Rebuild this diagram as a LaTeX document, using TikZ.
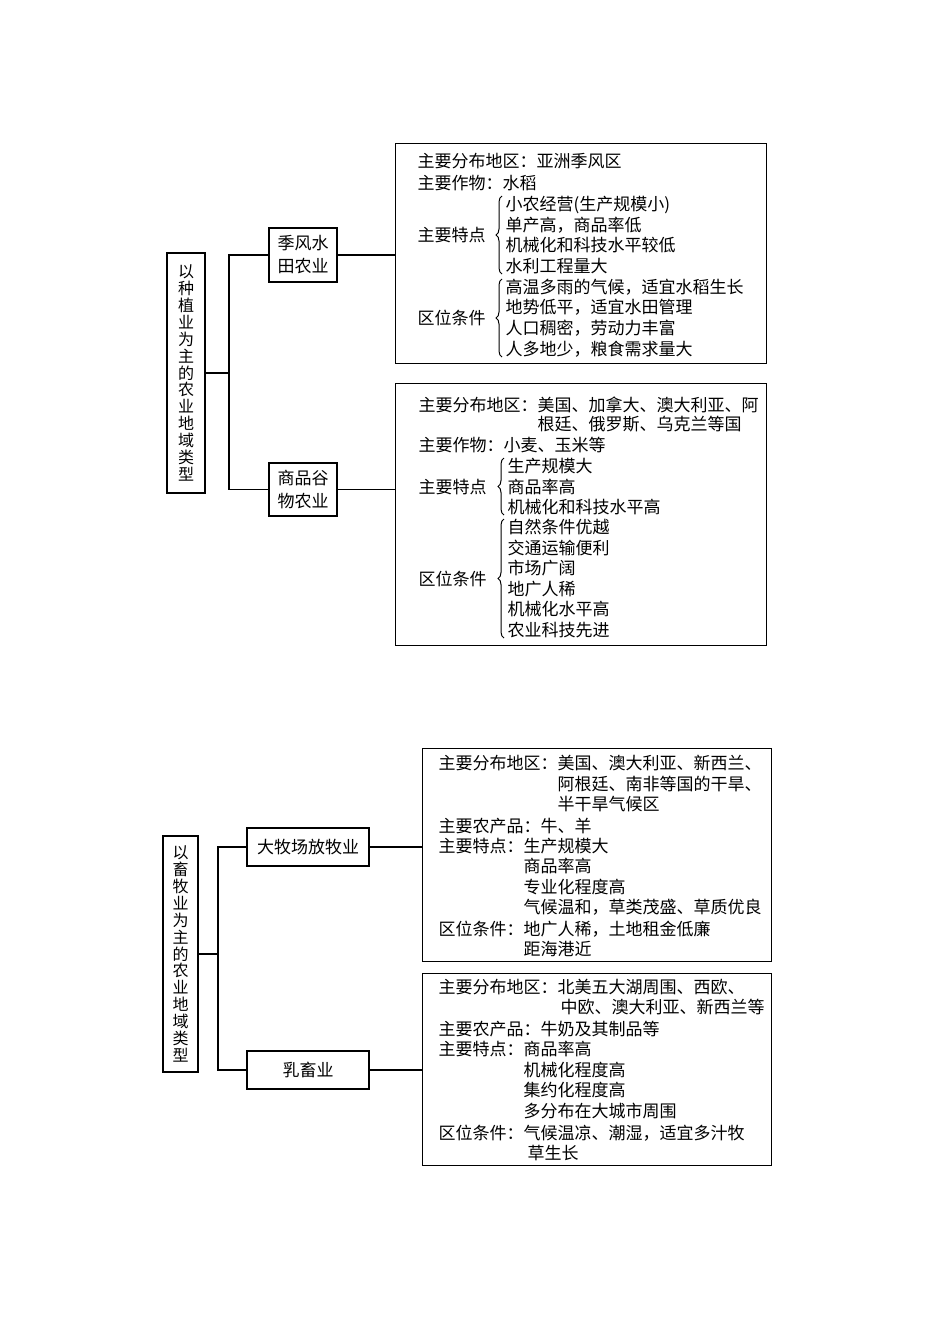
\documentclass[tikz,border=0pt]{standalone}
\usepackage{fontspec}
\newfontfamily\cjk{Noto Sans CJK SC}
\usetikzlibrary{decorations.pathreplacing}

\begin{document}
\begin{tikzpicture}[x=1pt,y=-1pt,line width=1.3pt]
  \tikzset{ box/.style={draw,line width=1.4pt,inner sep=0pt,align=center,font=\cjk\fontsize{17}{23}\selectfont},
    side/.style={box,font=\cjk\fontsize{16}{16.9}\selectfont},
    bigbox/.style={draw,line width=1.4pt,anchor=north west,inner sep=0pt},
    txt/.style={anchor=base west,inner sep=0pt,font=\cjk\fontsize{17}{20}\selectfont},
    brc/.style={decorate,decoration={brace,amplitude=6pt},line width=1pt},
  }
  \useasboundingbox (0,0) rectangle (950,1344);

  % upper chart
  \node[side,minimum width=38pt,minimum height=240pt] (L1) at (186,373) {以\\种\\植\\业\\为\\主\\的\\农\\业\\地\\域\\类\\型};
  \node[box,minimum width=68pt,minimum height=54pt] (B1) at (303,255) {季风水\\田农业};
  \node[box,minimum width=68pt,minimum height=53pt] (B2) at (303,489.5) {商品谷\\物农业};
  \node[bigbox,minimum width=371pt,minimum height=220pt] (R1) at (395,143) {};
  \node[bigbox,minimum width=371pt,minimum height=262pt] (R2) at (395,383) {};
  \coordinate (j1) at (229,373);

  \draw (L1) -- (j1);
  \draw (B1.west) -| (j1) |- (B2.west);
  \draw (B1.east) -- (R1.west |- B1.east);
  \draw (B2.east) -- (R2.west |- B2.east);

  \node[txt] (a1) at (417,167.5) {主要分布地区：亚洲季风区};
  \node[txt] (a2) at (417,189.5) {主要作物：水稻};
  \node[txt] (a3) at (417,241.5) {主要特点};
  \node[txt] (a4) at (505,210.5) {小农经营(生产规模小)};
  \node[txt] (a5) at (505,231.5) {单产高，商品率低};
  \node[txt] (a6) at (505,251.5) {机械化和科技水平较低};
  \node[txt] (a7) at (505,272.5) {水利工程量大};
  \node[txt] (a8) at (417,324.5) {区位条件};
  \node[txt] (a9) at (505,293.5) {高温多雨的气候，适宜水稻生长};
  \node[txt] (a10) at (505,313.5) {地势低平，适宜水田管理};
  \node[txt] (a11) at (505,334.5) {人口稠密，劳动力丰富};
  \node[txt] (a12) at (505,355.5) {人多地少，粮食需求量大};
  \draw[brc] (502,274) -- (502,196);
  \draw[brc] (502,357) -- (502,279);

  \node[txt] (c1) at (418,411.5) {主要分布地区：美国、加拿大、澳大利亚、阿};
  \node[txt] (c2) at (537,430.5) {根廷、俄罗斯、乌克兰等国};
  \node[txt] (c3) at (418,451.5) {主要作物：小麦、玉米等};
  \node[txt] (c4) at (418,493.5) {主要特点};
  \node[txt] (c5) at (507,472.5) {生产规模大};
  \node[txt] (c6) at (507,493.5) {商品率高};
  \node[txt] (c7) at (507,513.5) {机械化和科技水平高};
  \node[txt] (c8) at (418,585.5) {区位条件};
  \node[txt] (c9) at (507,533.5) {自然条件优越};
  \node[txt] (c10) at (507,554.5) {交通运输便利};
  \node[txt] (c11) at (507,574.5) {市场广阔};
  \node[txt] (c12) at (507,595.5) {地广人稀};
  \node[txt] (c13) at (507,615.5) {机械化水平高};
  \node[txt] (c14) at (507,636.5) {农业科技先进};
  \draw[brc] (504,515) -- (504,458);
  \draw[brc] (504,638) -- (504,519);

  % lower chart
  \node[side,minimum width=35pt,minimum height=236pt] (L2) at (180.5,954) {以\\畜\\牧\\业\\为\\主\\的\\农\\业\\地\\域\\类\\型};
  \node[box,minimum width=122pt,minimum height=38pt] (B3) at (308,847) {大牧场放牧业};
  \node[box,minimum width=122pt,minimum height=38pt] (B4) at (308,1070) {乳畜业};
  \node[bigbox,minimum width=349pt,minimum height=213pt] (R3) at (422,748) {};
  \node[bigbox,minimum width=349pt,minimum height=192pt] (R4) at (422,973) {};
  \coordinate (j2) at (218,954);

  \draw (L2) -- (j2);
  \draw (B3.west) -| (j2) |- (B4.west);
  \draw (B3.east) -- (R3.west |- B3.east);
  \draw (B4.east) -- (R4.west |- B4.east);

  \node[txt] (d1) at (438,769.5) {主要分布地区：美国、澳大利亚、新西兰、};
  \node[txt] (d2) at (557,790.5) {阿根廷、南非等国的干旱、};
  \node[txt] (d3) at (557,810.5) {半干旱气候区};
  \node[txt] (d4) at (438,832.5) {主要农产品：牛、羊};
  \node[txt] (d5) at (438,852.5) {主要特点：生产规模大};
  \node[txt] (d6) at (523,872.5) {商品率高};
  \node[txt] (d7) at (523,893.5) {专业化程度高};
  \node[txt] (d8) at (523,913.5) {气候温和，草类茂盛、草质优良};
  \node[txt] (d9) at (438,935.5) {区位条件：地广人稀，土地租金低廉};
  \node[txt] (d10) at (523,955.5) {距海港近};

  \node[txt] (e1) at (438,993.5) {主要分布地区：北美五大湖周围、西欧、};
  \node[txt] (e2) at (560,1013.5) {中欧、澳大利亚、新西兰等};
  \node[txt] (e3) at (438,1035.5) {主要农产品：牛奶及其制品等};
  \node[txt] (e4) at (438,1055.5) {主要特点：商品率高};
  \node[txt] (e5) at (523,1076.5) {机械化程度高};
  \node[txt] (e6) at (523,1096.5) {集约化程度高};
  \node[txt] (e7) at (523,1117.5) {多分布在大城市周围};
  \node[txt] (e8) at (438,1139.5) {区位条件：气候温凉、潮湿，适宜多汁牧};
  \node[txt] (e9) at (527,1159.5) {草生长};
\end{tikzpicture}
\end{document}
